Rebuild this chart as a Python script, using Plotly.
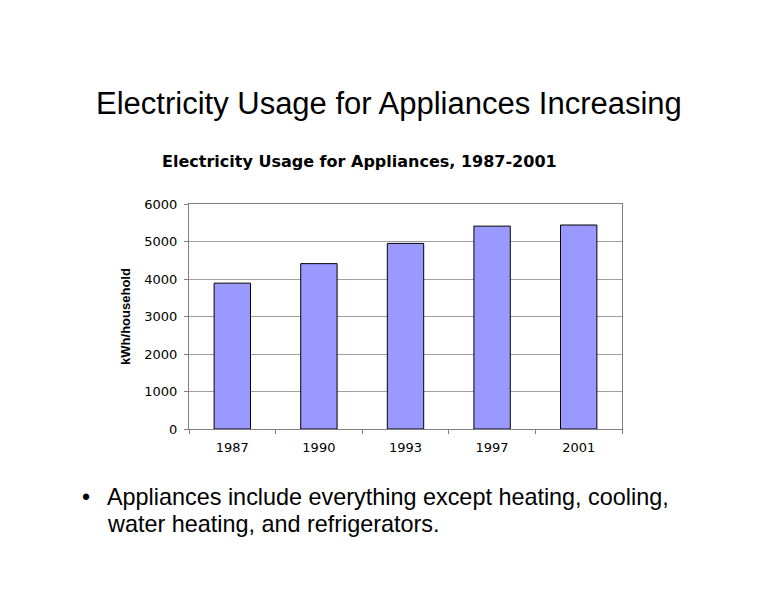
import plotly.graph_objects as go

years = ["1987", "1990", "1993", "1997", "2001"]
kwh = [3890, 4410, 4950, 5410, 5440]
y_ticks = [0, 1000, 2000, 3000, 4000, 5000, 6000]

# page has an 8px body margin, so target pixel positions are offset by 8
L, R, T, B = 181, 162, 196, 179

fig = go.Figure(go.Bar(x=years, y=kwh, marker=dict(color="#9999FF", line=dict(color="#000000", width=1)), width=0.42))

fig.update_layout(
    width=776, height=600,
    margin=dict(l=L, r=R, t=T, b=B),
    paper_bgcolor="white", plot_bgcolor="white",
    font=dict(family="Liberation Sans, Arial, sans-serif", color="black"),
    showlegend=False,
)
fig.update_xaxes(type="category", tickson="boundaries", ticks="outside", ticklen=4, tickcolor="#808080",
                 showline=True, linecolor="#808080", mirror=True, showgrid=False,
                 tickfont=dict(size=13, family="DejaVu Sans"), ticklabelstandoff=6, range=[-0.5, 4.5])
fig.update_yaxes(range=[0, 6000], tickvals=y_ticks, ticks="outside", ticklen=4, tickcolor="#808080",
                 showline=True, linecolor="#808080", mirror=True, showgrid=True, gridcolor="#a0a0a0",
                 tickfont=dict(size=13, family="DejaVu Sans"), ticklabelstandoff=4, zeroline=False,
                 title=dict(text="<b>kWh/household</b>", font=dict(size=13), standoff=10))


def py(ypx):
    # page pixel y -> paper coordinates
    return (600 - B - (ypx - 8)) / (600 - T - B)


def px_(xpx):
    return ((xpx - 8) - L) / (776 - L - R)


fig.add_annotation(text="Electricity Usage for Appliances Increasing", x=px_(389), y=py(103), xref="paper", yref="paper",
                   showarrow=False, font=dict(size=31), xanchor="center", yanchor="middle")
fig.add_annotation(text="<b>Electricity Usage for Appliances, 1987-2001</b>", x=px_(359), y=py(161), xref="paper", yref="paper",
                   showarrow=False, font=dict(size=16, family="DejaVu Sans"), xanchor="center", yanchor="middle")
fig.add_annotation(text="•", x=px_(80), y=py(497), xref="paper", yref="paper",
                   showarrow=False, font=dict(size=23), xanchor="left", yanchor="middle")
fig.add_annotation(text="Appliances include everything except heating, cooling,",
                   x=px_(105), y=py(497), xref="paper", yref="paper", align="left",
                   showarrow=False, font=dict(size=23.4), xanchor="left", yanchor="middle")
fig.add_annotation(text="water heating, and refrigerators.",
                   x=px_(105), y=py(524), xref="paper", yref="paper", align="left",
                   showarrow=False, font=dict(size=23.4), xanchor="left", yanchor="middle")

fig.write_html("out.html")
